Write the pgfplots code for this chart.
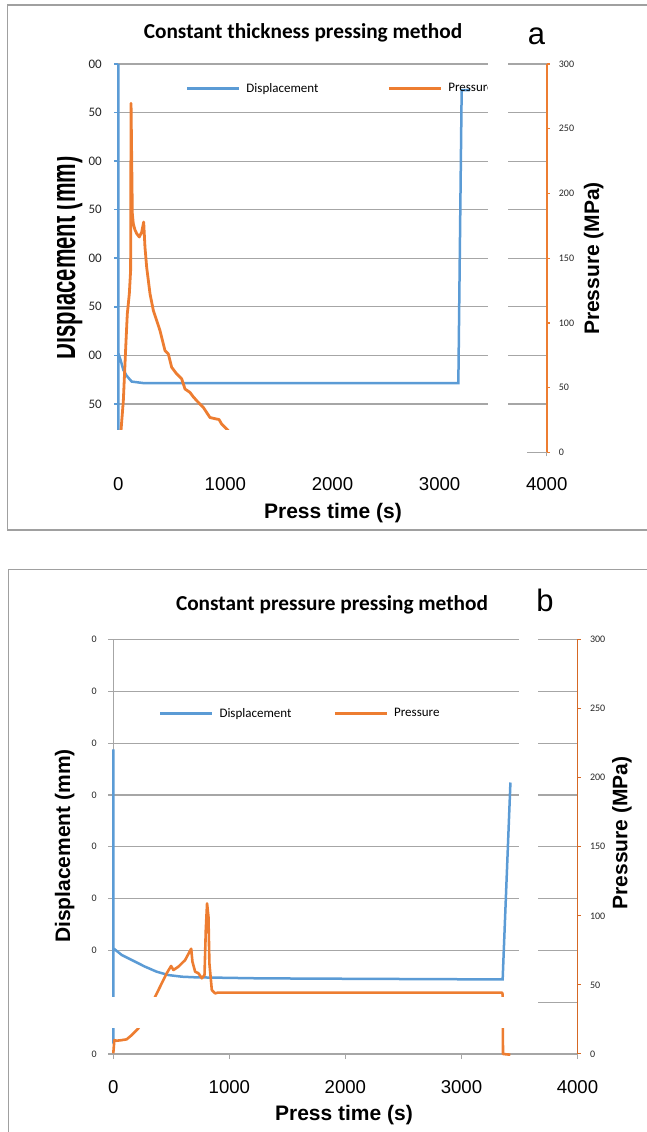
\documentclass[border=0pt]{standalone}
\usepackage{fontspec}
\usepackage{pgfplots}
\usepackage{pgfplotstable}
\pgfplotsset{compat=1.18}
\setmainfont{Liberation Sans}
\newfontfamily\calibri{Carlito}
\newfontfamily\arial{Liberation Sans}
\definecolor{blueC}{RGB}{91,155,213}
\definecolor{orangeC}{RGB}{237,125,49}
\definecolor{orangeD}{RGB}{214,104,36}
\definecolor{gridC}{RGB}{166,166,166}
\definecolor{frameC}{RGB}{160,160,160}

\pgfplotstableread{
t d
0 400
0 0
1 102
22 95
47 85
78 79
125 73
231 71.5
1000 71.5
2000 71.5
3175 71.5
3206 373
3284 373
}\dispA

\pgfplotstableread{
t p
10 0
25 16.8
47 40
72 86
84 107
103 122.6
115 140.6
119 269.6
131 184.5
140 176.7
155 172
172 169
196 166.4
218 170
237 178
249 158.6
265 143
296 122.6
327 109.7
358 102
389 94.2
436 78.7
467 76.1
498 65.8
545 60.7
592 56.8
623 49
669 46.4
700 43
732 40
794 34.8
856 27
919 25.8
940 25.5
965 22
1027 16.8
1090 8
}\pressA

\pgfplotstableread{
t d
0 294
0 10
1 102
72 95.6
159 90.7
273 84.3
374 79.4
474 76.2
590 74.6
705 74
1265 73
2000 72.6
3034 72.1
3355 72
3422 262
}\dispB

\pgfplotstableread{
t p
0 0.5
9 10
29 9.6
70 10
115 10.6
159 13.7
216 18.6
290 30
361 41.5
403 48.7
460 58.4
498 63.7
518 60.8
561 63.2
619 68
671 76.2
682 66.8
705 59.6
734 58.4
763 54.8
786 57.2
797 89.7
808 109
820 99.3
828 65.6
849 46.3
877 43.9
900 44.4
1500 44.4
2000 44.4
2500 44.4
3000 44.4
3350 44.4
3355 43
3358 0
3421 -0.5
}\pressB

\pgfplotsset{
  panelA/.style={at={(118.3pt,679.5pt)}, anchor=south west, scale only axis,
    width=428.4pt, height=388.5pt, xmin=0, xmax=4000, clip=false},
  panelB/.style={at={(113.3pt,78pt)}, anchor=south west, scale only axis,
    width=464.2pt, height=414.5pt, xmin=0, xmax=4000, clip=false},
}

\begin{document}
\begin{tikzpicture}
\useasboundingbox (0,0) rectangle (647pt,1132pt);

% ---------------- Panel a ----------------
\begin{axis}[panelA, ymin=0, ymax=400,
  axis x line*=bottom, axis y line*=left,
  x axis line style={draw=gridC, line width=1.2pt, -},
  y axis line style={draw=blueC, line width=2.2pt, -},
  xtick={0,1000,2000,3000,4000}, xticklabels={0,1000,2000,3000,4000},
  xticklabel style={font=\arial\fontsize{18.6}{18.6}\selectfont, anchor=base, yshift=-34.2pt},
  xtick style={draw=gridC, line width=1.2pt},
  ytick={0,50,...,400}, yticklabels={,50,00,50,00,50,00,50,00},
  yticklabel style={font=\calibri\fontsize{13}{13}\selectfont, anchor=east, inner sep=0pt, xshift=-12.3pt, text=black!85},
  ytick style={draw=blueC, line width=1.5pt},
  tick align=outside, major tick length=4pt,
  ymajorgrids, grid style={draw=gridC, line width=1.2pt},
]
\addplot[blueC, line width=2.5pt, mark=none] table {\dispA};
\end{axis}

\begin{axis}[panelA, ymin=0, ymax=300,
  axis x line=none, axis y line*=right,
  y axis line style={draw=orangeC, line width=2pt, -},
  ytick={0,50,...,300}, yticklabels={0,50,100,150,200,250,300},
  yticklabel style={font=\calibri\fontsize{10}{10}\selectfont, anchor=west, inner sep=0pt, xshift=9pt, text=black!85},
  tick align=outside, major tick length=3pt, ytick style={draw=orangeC, line width=1.2pt},
  legend style={draw=none, fill=none, at={(0.158,0.9375)}, anchor=west, legend columns=2,
    inner sep=0pt, outer sep=0pt, font=\calibri\fontsize{13}{13}\selectfont,
    nodes={inner sep=0pt}, column sep=6pt,
    /tikz/every even column/.append style={column sep=69pt}},
  legend image code/.code={\draw[#1] (0pt,0pt) -- (52pt,0pt);},
]
\addlegendimage{blueC, line width=2.5pt}
\addlegendentry{Displacement}
\addplot[orangeC, line width=2.8pt, line join=round, mark=none] table {\pressA};
\addlegendentry{Pressure}
\end{axis}

% ---------------- Panel b ----------------
\begin{axis}[panelB, ymin=0, ymax=400,
  axis x line*=bottom, axis y line*=left,
  x axis line style={draw=gridC, line width=1.2pt, -},
  y axis line style={draw=gridC, line width=1.2pt, -},
  xtick={0,1000,2000,3000,4000}, xticklabels={0,1000,2000,3000,4000},
  xticklabel style={font=\arial\fontsize{18.6}{18.6}\selectfont, anchor=base, yshift=-34.2pt},
  xtick style={draw=gridC, line width=1.2pt},
  ytick={0,50,...,400}, yticklabels={0,,0,0,0,0,0,0,0},
  yticklabel style={font=\calibri\fontsize{10}{10}\selectfont, anchor=east, inner sep=0pt, xshift=-11.3pt, text=black!85},
  ytick style={draw=gridC, line width=1.2pt},
  tick align=outside, major tick length=5pt,
  ymajorgrids, grid style={draw=gridC, line width=1.2pt},
]
\addplot[blueC, line width=2.5pt, mark=none] table {\dispB};
\end{axis}

\begin{axis}[panelB, ymin=0, ymax=300,
  axis x line=none, axis y line*=right,
  y axis line style={draw=orangeD, line width=1pt, -},
  ytick={0,50,...,300}, yticklabels={0,50,100,150,200,250,300},
  yticklabel style={font=\calibri\fontsize{10}{10}\selectfont, anchor=west, inner sep=0pt, xshift=9.3pt, text=black!85},
  tick align=outside, major tick length=3pt, ytick style={draw=orangeD, line width=1pt},
  legend style={draw=none, fill=none, at={(0.0985,0.822)}, anchor=west, legend columns=2,
    inner sep=0pt, outer sep=0pt, font=\calibri\fontsize{13}{13}\selectfont,
    nodes={inner sep=0pt}, column sep=6pt,
    /tikz/every even column/.append style={column sep=42pt}},
  legend image code/.code={\draw[#1] (0pt,0pt) -- (52pt,0pt);},
]
\addlegendimage{blueC, line width=2.5pt}
\addlegendentry{Displacement}
\addplot[orangeC, line width=2.6pt, line join=round, mark=none] table {\pressB};
\addlegendentry{Pressure}
\end{axis}

% ---------------- masks (blank strips of the reference) ----------------
\fill[white] (100pt,674pt) rectangle (527pt,702pt);
\fill[white] (488pt,677pt) rectangle (508pt,1077pt);
\fill[white] (100pt,104pt) rectangle (538.3pt,135.3pt);
\fill[white] (519.3pt,82pt) rectangle (538.3pt,500pt);

% ---------------- frames ----------------
\draw[frameC, line width=1.5pt] (7.5pt,602pt) rectangle (700pt,1127pt);
\draw[frameC, line width=1.5pt] (8.3pt,-20pt) rectangle (700pt,562.7pt);

% ---------------- titles and labels ----------------
\node[anchor=base, inner sep=0pt, font=\calibri\bfseries\fontsize{21.3}{21}\selectfont] at (303pt,1093pt) {Constant thickness pressing method};
\node[anchor=base, inner sep=0pt, font=\calibri\bfseries\fontsize{21.3}{21}\selectfont] at (332pt,521.3pt) {Constant pressure pressing method};
\node[anchor=base, inner sep=0pt, font=\arial\fontsize{31}{31}\selectfont] at (536.5pt,1087pt) {a};
\node[anchor=base, inner sep=0pt, font=\arial\fontsize{31}{31}\selectfont] at (545pt,520pt) {b};

\node[anchor=base, inner sep=0pt, font=\arial\bfseries\fontsize{21}{21}\selectfont] at (333pt,613pt) {Press time (s)};
\node[anchor=base, inner sep=0pt, font=\arial\bfseries\fontsize{21}{21}\selectfont] at (344pt,11pt) {Press time (s)};

\node[rotate=90, anchor=base, inner sep=0pt, font=\arial\bfseries\fontsize{21}{21}\selectfont] at (599pt,873.5pt) {Pressure (MPa)};
\node[rotate=90, anchor=base, inner sep=0pt, font=\arial\bfseries\fontsize{21}{21}\selectfont] at (627.3pt,299pt) {Pressure (MPa)};

\node[rotate=90, anchor=base, inner sep=0pt, font=\arial\bfseries\fontsize{21}{21}\selectfont] at (70pt,286pt) {Displacement (mm)};
\begin{scope}
\clip (57pt,700pt) rectangle (100pt,1000pt);
\node[rotate=90, yscale=1.6, anchor=base, inner sep=0pt, font=\arial\bfseries\fontsize{22}{22}\selectfont] at (75pt,874pt) {Displacement (mm)};
\end{scope}
\end{tikzpicture}
\end{document}
